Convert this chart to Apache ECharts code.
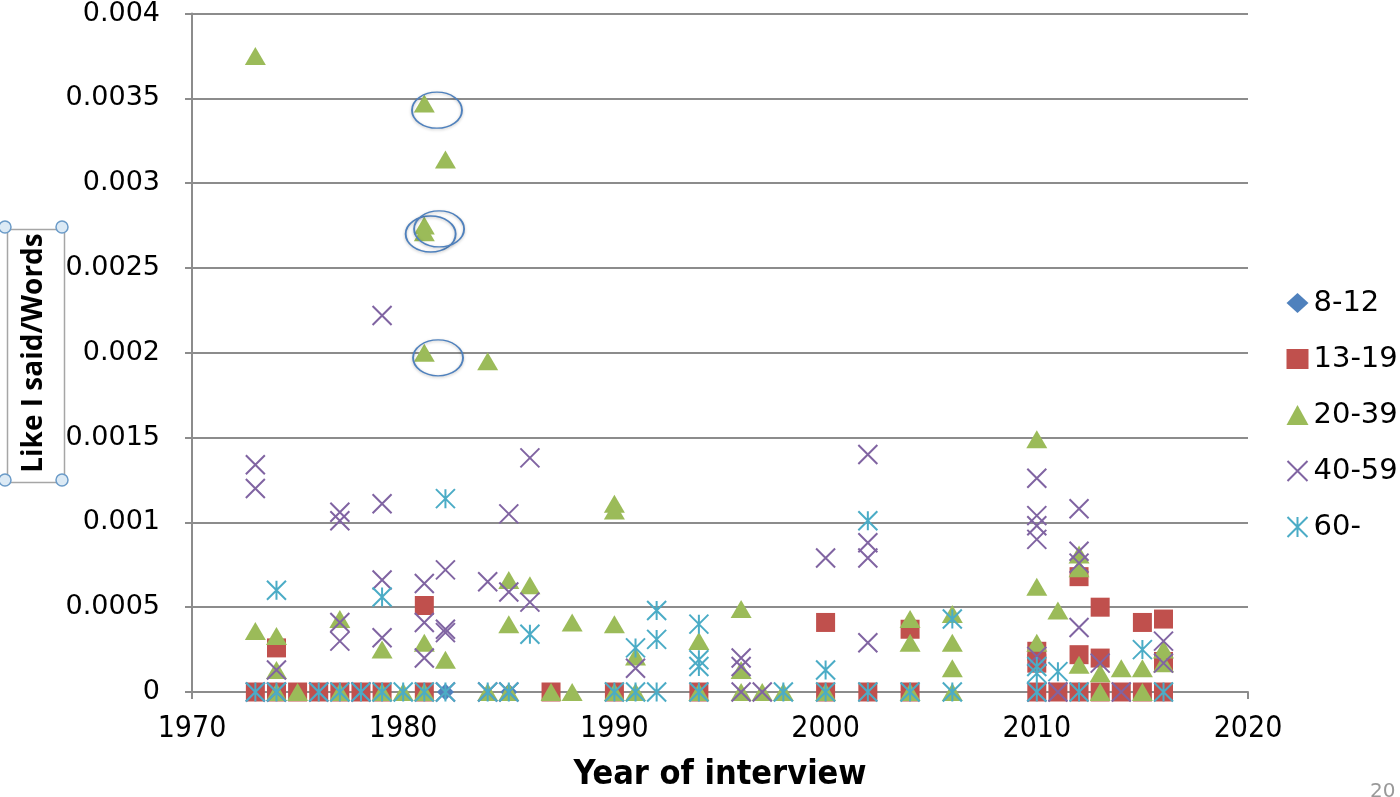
<!DOCTYPE html>
<html>
<head>
<meta charset="utf-8">
<script src="https://cdn.jsdelivr.net/npm/echarts@6/dist/echarts.min.js"></script>
<style>
html,body{margin:0;padding:0;background:#fff;}
#c{width:1400px;height:797px;}
</style>
</head>
<body>
<div id="c"></div>
<script>
// ---- data (year, Like I said / Words) ----
var seriesNames = ['8-12', '13-19', '20-39', '40-59', '60-'];
var xTicks = [1970, 1980, 1990, 2000, 2010, 2020];

var zeros812 = [1982, 1985, 1990];
var pts812 = [];

var zeros1319 = [1973,1974,1975,1976,1977,1978,1979,1981,1987,1990,1994,2000,2002,2004,2010,2011,2012,2013,2014,2015,2016];
var pts1319 = [[1974,0.00026],[1981,0.00051],[2000,0.00041],[2004,0.00037],[2010,0.00024],[2010,0.00017],
  [2012,0.00068],[2012,0.00022],[2013,0.0005],[2013,0.0002],[2015,0.00041],[2016,0.00043],[2016,0.00018]];

var zeros2039 = [1974,1975,1977,1979,1980,1981,1984,1985,1987,1988,1990,1991,1994,1996,1997,1998,2000,2004,2006,2013,2015];
var pts2039 = [[1973,0.00375],[1973,0.00036],[1974,0.00033],[1974,0.00013],[1977,0.00043],[1979,0.00025],
  [1981,0.00347],[1981,0.00275],[1981,0.00271],[1981,0.002],[1981,0.00029],[1982,0.00314],[1982,0.00019],
  [1984,0.00195],[1985,0.00066],[1985,0.0004],[1986,0.00063],[1988,0.00041],[1990,0.00111],[1990,0.00107],
  [1990,0.0004],[1991,0.00021],[1994,0.0003],[1996,0.00049],[1996,0.00013],[2004,0.00043],[2004,0.00029],
  [2006,0.00046],[2006,0.00029],[2006,0.00014],[2010,0.00149],[2010,0.00062],[2010,0.00029],[2011,0.00048],
  [2012,0.00081],[2012,0.00073],[2012,0.00016],[2013,0.00011],[2014,0.00014],[2015,0.00014],[2016,0.00025],[2016,0.00017]];

var zeros4059 = [1973,1974,1976,1978,1982,1984,1985,1996,1997,2010,2011,2014];
var pts4059 = [[1973,0.00134],[1973,0.0012],[1974,0.00013],[1977,0.00106],[1977,0.00101],[1977,0.00041],[1977,0.0003],
  [1979,0.00222],[1979,0.00111],[1979,0.00066],[1979,0.00032],[1981,0.00064],[1981,0.00041],[1981,0.0002],
  [1982,0.00072],[1982,0.00037],[1982,0.00035],[1984,0.00065],[1985,0.00105],[1985,0.00059],[1986,0.00138],
  [1986,0.00053],[1991,0.00014],[1996,0.0002],[1996,0.00015],[2000,0.00079],[2002,0.0014],[2002,0.00088],
  [2002,0.00079],[2002,0.00029],[2010,0.00126],[2010,0.00104],[2010,0.00098],[2010,0.0009],[2010,0.00021],
  [2012,0.00108],[2012,0.00083],[2012,0.00076],[2012,0.00038],[2013,0.00017],[2016,0.0003],[2016,0.00017]];

var zeros60 = [1973,1974,1976,1977,1978,1979,1980,1981,1982,1984,1985,1990,1991,1992,1994,1998,2000,2002,2004,2006,2010,2012,2016];
var pts60 = [[1974,0.0006],[1979,0.00056],[1982,0.00114],[1986,0.00034],[1991,0.00026],[1992,0.00048],[1992,0.00031],
  [1994,0.0004],[1994,0.00019],[1994,0.00015],[2000,0.00013],[2002,0.00101],[2006,0.00043],[2010,0.00015],
  [2010,0.00011],[2011,0.00012],[2015,0.00025]];

// annotation ellipses around highlighted 20-39 points
var circled = [[1981.6,0.00343],[1981.3,0.0027],[1981.7,0.00273],[1981.65,0.00197]];

function build(zeros, pts){
  return zeros.map(function(y){return [y,0];}).concat(pts);
}

var colors = ['#4f81bd','#c0504d','#9bbb59','#8064a2','#4bacc6'];
var xPath = 'path://M0,0L20,20M20,0L0,20';
var starPath = 'path://M0,0L20,20M20,0L0,20M10,0L10,20';
var condensed = '"DejaVu Sans Condensed","Liberation Sans Narrow","Liberation Sans",sans-serif';

var chart = echarts.init(document.getElementById('c'));
chart.setOption({
  animation:false,
  backgroundColor:'#ffffff',
  grid:{left:192,right:152,top:10,bottom:101},
  xAxis:{
    type:'value', min:xTicks[0], max:xTicks[xTicks.length-1], interval:10,
    axisLine:{show:true,lineStyle:{color:'#8c8c8c',width:2}},
    axisTick:{show:true,length:7,lineStyle:{color:'#8c8c8c',width:2}},
    splitLine:{show:false},
    axisLabel:{color:'#000',fontFamily:condensed,fontSize:30,margin:22,
      formatter:function(v){return String(v);}},
    name:'Year of interview', nameLocation:'middle', nameGap:66,
    nameTextStyle:{color:'#000',fontFamily:condensed,fontWeight:'bold',fontSize:34}
  },
  yAxis:{
    type:'value', min:0, max:0.004, interval:0.0005,
    axisLine:{show:true,lineStyle:{color:'#8c8c8c',width:2}},
    axisTick:{show:true,length:7,lineStyle:{color:'#8c8c8c',width:2}},
    splitLine:{show:true,lineStyle:{color:'#8c8c8c',width:2}},
    axisLabel:{color:'#000',fontFamily:'DejaVu Sans',fontSize:27,margin:32,
      formatter:function(v){return v===0?'0':String(+v.toFixed(4));}}
  },
  legend:{
    orient:'vertical', left:1280, top:283, itemWidth:22, itemHeight:20, itemGap:26,
    data:seriesNames,
    textStyle:{color:'#000',fontFamily:'DejaVu Sans',fontSize:29,lineHeight:30}
  },
  series:[
    {name:'8-12',type:'scatter',symbol:'diamond',symbolSize:17,data:build(zeros812,pts812),
      itemStyle:{color:colors[0],opacity:1}},
    {name:'13-19',type:'scatter',symbol:'rect',symbolSize:19,data:build(zeros1319,pts1319),
      itemStyle:{color:colors[1],opacity:1}},
    {name:'20-39',type:'scatter',symbol:'triangle',symbolSize:[21,18],data:build(zeros2039,pts2039),
      itemStyle:{color:colors[2],opacity:1}},
    {name:'40-59',type:'scatter',symbol:xPath,symbolSize:19,data:build(zeros4059,pts4059),
      itemStyle:{color:'none',borderColor:colors[3],borderWidth:2,opacity:1}},
    {name:'60-',type:'scatter',symbol:starPath,symbolSize:19,data:build(zeros60,pts60),
      itemStyle:{color:'none',borderColor:colors[4],borderWidth:2,opacity:1}},
    {name:'circled',type:'scatter',symbol:'circle',symbolSize:[50,36],data:circled,z:5,
      itemStyle:{color:'rgba(0,0,0,0)',borderColor:'#4f81bd',borderWidth:1.6,opacity:1,
        shadowColor:'rgba(0,0,0,0.25)',shadowBlur:3,shadowOffsetY:1}}
  ],
  graphic:[
    {type:'rect',left:5,top:227,shape:{width:57,height:253},
      style:{fill:'none',stroke:'#a6a6a6',lineWidth:1.5}},
    {type:'circle',shape:{cx:5,cy:227,r:6},style:{fill:'#dceaf5',stroke:'#6b9bc8',lineWidth:1.5}},
    {type:'circle',shape:{cx:62,cy:227,r:6},style:{fill:'#dceaf5',stroke:'#6b9bc8',lineWidth:1.5}},
    {type:'circle',shape:{cx:5,cy:480,r:6},style:{fill:'#dceaf5',stroke:'#6b9bc8',lineWidth:1.5}},
    {type:'circle',shape:{cx:62,cy:480,r:6},style:{fill:'#dceaf5',stroke:'#6b9bc8',lineWidth:1.5}},
    {type:'text',x:34,y:353,rotation:Math.PI/2,
      style:{text:'Like I said/Words',fill:'#000',fontFamily:'Open Sans',fontWeight:'bold',fontSize:28,
        align:'center',verticalAlign:'middle'}},
    {type:'text',x:1370,y:782,
      style:{text:'20',fill:'#999',fontFamily:'DejaVu Sans',fontSize:20}}
  ]
});
</script>
</body>
</html>
